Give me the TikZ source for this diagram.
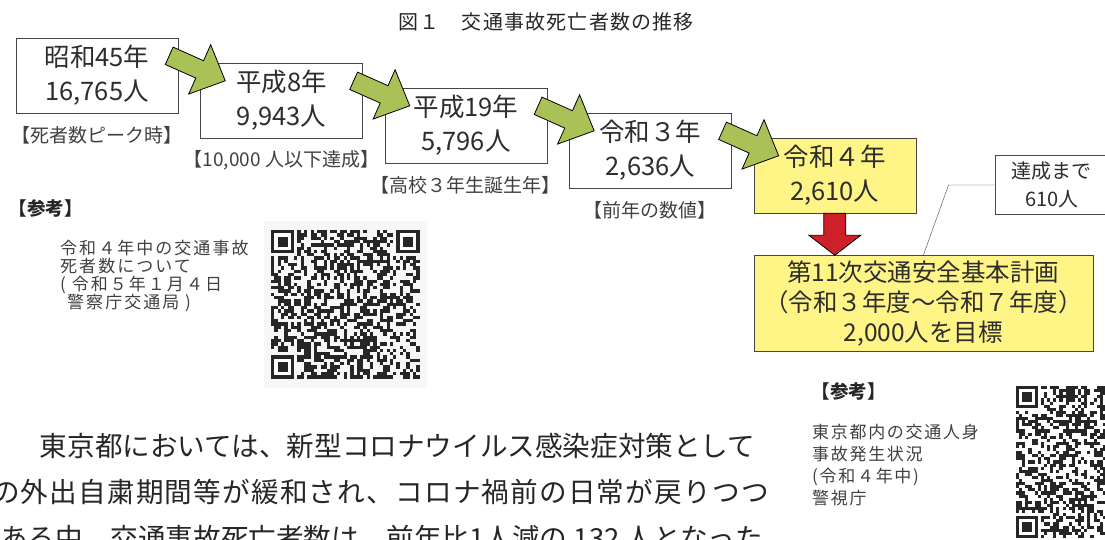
\documentclass[tikz,border=0pt]{standalone}
\usepackage{fontspec}
\setmainfont{Noto Sans CJK JP}
\usepackage{tikz}
\usetikzlibrary{positioning, calc}

\definecolor{linegray}{RGB}{70,70,70}
\definecolor{textgray}{RGB}{45,45,45}
\definecolor{arrowgreen}{RGB}{170,193,88}
\definecolor{arrowred}{RGB}{205,32,40}
\definecolor{markyellow}{RGB}{255,245,135}

% block arrow: shaft half width, head half width, head length, tail, tip, style
\newcommand{\blockarrow}[6]{%
  \filldraw[#6] ($(#4)!#1!90:(#5)$) -- ($(#5)!#3!(#4)!#1!90:(#5)$)
    -- ($(#5)!#3!(#4)!#2!90:(#5)$) -- (#5)
    -- ($(#5)!#3!(#4)!#2!-90:(#5)$) -- ($(#5)!#3!(#4)!#1!-90:(#5)$)
    -- ($(#4)!#1!-90:(#5)$) -- cycle;}

% qr code pattern: top left corner, last module index, module size
\newcommand{\qrpattern}[3]{%
  \begin{scope}[shift={#1}, x=#3, y=-#3]
    \foreach \i in {0,...,#2}{
      \foreach \j in {0,...,#2}{
        \pgfmathtruncatemacro{\fnd}{(\i<8 && \j<8) || (\i>#2-8 && \j<8) || (\i<8 && \j>#2-8)}
        \pgfmathrandominteger{\bit}{0}{1}
        \ifnum\fnd=0 \ifnum\bit=1 \fill[qrdot] (\i,\j) rectangle ++(1,1); \fi\fi
      }
    }
    \foreach \cx/\cy in {0/0, #2-6/0, 0/#2-6}{
      \fill[qrdot] (\cx,\cy) rectangle ++(7,7);
      \fill[white] ($(\cx,\cy)+(1,1)$) rectangle ++(5,5);
      \fill[qrdot] ($(\cx,\cy)+(2,2)$) rectangle ++(3,3);
    }
  \end{scope}}

\begin{document}
\begin{tikzpicture}[x=1pt, y=-1pt, every node/.style={text=textgray},
    yearbox/.style={rectangle, draw=linegray, fill=white, minimum width=162pt, minimum height=75pt, align=center, inner sep=0pt, font=\fontsize{25.5}{34}\selectfont},
    tag/.style={text=black!75, font=\fontsize{19}{20}\selectfont},
    refhead/.style={anchor=west, text=black!85, font=\fontsize{18.5}{19}\bfseries},
    reftext/.style={anchor=north west, align=left, inner sep=0pt, text=black!75},
    bodytext/.style={anchor=west, inner sep=0pt, text=black!85, font=\fontsize{27.6}{30}\selectfont},
    qrdot/.style={fill=black!85}]
    \clip (0,0) rectangle (1105,540);

    \node[text=black!85, font=\fontsize{20}{21}\selectfont\addfontfeatures{LetterSpace=6}] (title) at (546,22) {図１　交通事故死亡者数の推移};

    % year boxes
    \node[yearbox] (box1) at (97,75.5) {昭和45年\\16,765人};
    \node[yearbox, right of=box1, xshift=156pt, yshift=-25pt] (box2) {平成8年\\9,943人};
    \node[yearbox, right of=box2, xshift=156pt, yshift=-25pt] (box3) {平成19年\\5,796人};
    \node[yearbox, right of=box3, xshift=156pt, yshift=-25pt] (box4) {令和３年\\2,636人};
    \node[yearbox, right of=box4, xshift=156pt, yshift=-25pt, fill=markyellow] (box5) {令和４年\\2,610人};

    \node[tag, below of=box1, yshift=-31.5pt] (tag1) {【死者数ピーク時】};
    \node[tag, below of=box2, yshift=-31.5pt] (tag2) {【10,000 人以下達成】};
    \node[tag, below of=box3, yshift=-31.5pt] (tag3) {【高校３年生誕生年】};
    \node[tag, below of=box4, yshift=-31.5pt] (tag4) {【前年の数値】};

    \node[rectangle, draw=linegray, fill=markyellow, minimum width=339pt, minimum height=96pt, align=center, inner sep=0pt,
      font=\fontsize{24.5}{30}\selectfont, below of=box5, xshift=88.5pt, yshift=-99.5pt] (goal)
      {第11次交通安全基本計画\\（令和３年度～令和７年度）\\2,000人を目標};
    \node[rectangle, draw=linegray, fill=white, minimum width=114pt, minimum height=59pt, align=center, inner sep=0pt,
      font=\fontsize{20}{28}\selectfont, right of=box5, xshift=188.5pt, yshift=-9.5pt] (rest) {達成まで\\610人};
    \draw[linegray] (rest.west) -- ++(-46,0) -- (goal.north);

    % green arrows between the years
    \foreach \a/\b in {box1/box2, box2/box3, box3/box4, box4/box5}{
      \coordinate (\a-tail) at ($(\a.north east)+(-9,18)$);
      \coordinate (\b-tip) at ($(\b.north west)+(25,18)$);
      \blockarrow{9.5pt}{27pt}{28pt}{\a-tail}{\b-tip}{draw=black, fill=arrowgreen, line width=.8pt}
    }
    \coordinate (red-top) at (box5.south);
    \coordinate (red-tip) at (box5.south |- goal.north);
    \blockarrow{11pt}{26pt}{20pt}{red-top}{red-tip}{draw=black, fill=arrowred, line width=.8pt}

    % references with qr codes
    \node[refhead] (ref1) at (5,208) {【参考】};
    \node[reftext, font=\fontsize{17}{18}\selectfont\addfontfeatures{LetterSpace=12}] (ref1text) at (60,240)
      {令和４年中の交通事故\\死者数について\\( 令和５年１月４日\\\hspace{7pt}警察庁交通局 )};
    \fill[black!3] (264,221) rectangle (427,388);
    \pgfmathsetseed{20231}
    \qrpattern{(271,230)}{44}{3.3pt}

    \node[refhead] (ref2) at (808,391) {【参考】};
    \node[reftext, font=\fontsize{17}{22}\selectfont\addfontfeatures{LetterSpace=10}] (ref2text) at (812,424)
      {東京都内の交通人身\\事故発生状況\\(令和４年中)\\警視庁};
    \pgfmathsetseed{777}
    \qrpattern{(1016,386)}{48}{3.1pt}

    % body text
    \node[bodytext] (para1) at (12,446) {　東京都においては、新型コロナウイルス感染症対策として};
    \node[bodytext, font=\fontsize{27.6}{30}\selectfont\addfontfeatures{LetterSpace=4.3}] (para2) at (-8,492) {の外出自粛期間等が緩和され、コロナ禍前の日常が戻りつつ};
    \node[bodytext] (para3) at (0,538) {ある中、交通事故死亡者数は、前年比1人減の 132 人となった};
\end{tikzpicture}
\end{document}
